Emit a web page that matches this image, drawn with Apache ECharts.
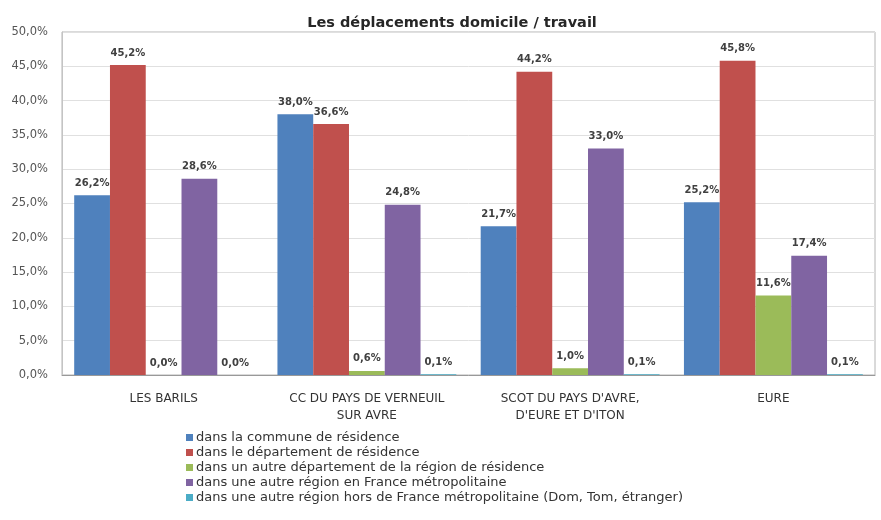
<!DOCTYPE html>
<html>
<head>
<meta charset="utf-8">
<script src="https://cdn.jsdelivr.net/npm/echarts@6/dist/echarts.min.js"></script>
<style>
  html, body { margin: 0; padding: 0; background: #fff; }
  #chart { width: 881px; height: 520px; }
</style>
</head>
<body>
<div id="chart"></div>
<script>
// Territories compared
const categories = [
  'LES BARILS',
  'CC DU PAYS DE VERNEUIL\nSUR AVRE',
  "SCOT DU PAYS D'AVRE,\nD'EURE ET D'ITON",
  'EURE'
];

// Share of workers by place of work (%)
const communeResidence = [26.2, 38.0, 21.7, 25.2];
const departementResidence = [45.2, 36.6, 44.2, 45.8];
const autreDepartementRegion = [0.0, 0.6, 1.0, 11.6];
const autreRegionMetropole = [28.6, 24.8, 33.0, 17.4];
const horsMetropole = [0.0, 0.1, 0.1, 0.1];

const seriesNames = [
  'dans la commune de résidence',
  'dans le département de résidence',
  'dans un autre département de la région de résidence',
  'dans une autre région en France métropolitaine',
  'dans une autre région hors de France métropolitaine (Dom, Tom, étranger)'
];
const seriesValues = [communeResidence, departementResidence, autreDepartementRegion, autreRegionMetropole, horsMetropole];
const seriesColors = ['#4F81BD', '#C0504D', '#9BBB59', '#8064A2', '#4BACC6'];

const pct = v => v.toFixed(1).replace('.', ',') + '%';
const FONT = '"DejaVu Sans", sans-serif';

const chart = echarts.init(document.getElementById('chart'), null, { renderer: 'canvas' });

chart.setOption({
  animation: false,
  backgroundColor: '#ffffff',
  textStyle: { fontFamily: FONT },
  title: {
    text: 'Les déplacements domicile / travail',
    left: 452,
    textAlign: 'center',
    top: 16,
    padding: 0,
    textStyle: { fontSize: 14.5, fontWeight: 'bold', color: '#262626', fontFamily: FONT }
  },
  grid: {
    left: 62, right: 6, top: 32, bottom: 145,
    show: true, borderColor: '#b4b4b4', borderWidth: 1
  },
  legend: {
    orient: 'vertical',
    left: 186,
    top: 431,
    padding: 0,
    itemWidth: 7,
    itemHeight: 7,
    itemGap: 2,
    icon: 'rect',
    textStyle: { fontSize: 13, color: '#333', fontFamily: FONT, padding: [0, 0, 0, -2] },
    data: seriesNames
  },
  xAxis: {
    type: 'category',
    data: categories,
    axisLine: { lineStyle: { color: '#999' } },
    axisTick: { show: false },
    axisLabel: { fontSize: 12, color: '#333', margin: 15, lineHeight: 17 }
  },
  yAxis: {
    type: 'value',
    min: 0, max: 50, interval: 5,
    axisLine: { show: true, lineStyle: { color: '#c4c4c4' } },
    axisTick: { show: false },
    splitLine: { lineStyle: { color: '#e0e0e0' } },
    axisLabel: { fontSize: 11.5, color: '#555', margin: 14, formatter: v => pct(v) }
  },
  series: seriesNames.map((name, i) => ({
    name,
    type: 'bar',
    data: seriesValues[i],
    barGap: '0%',
    barCategoryGap: '12%',
    itemStyle: { color: seriesColors[i] },
    label: {
      show: true,
      position: 'top',
      distance: 7,
      fontSize: 10,
      fontWeight: 'bold',
      color: '#404040',
      formatter: p => pct(p.value)
    }
  }))
});
</script>
</body>
</html>
